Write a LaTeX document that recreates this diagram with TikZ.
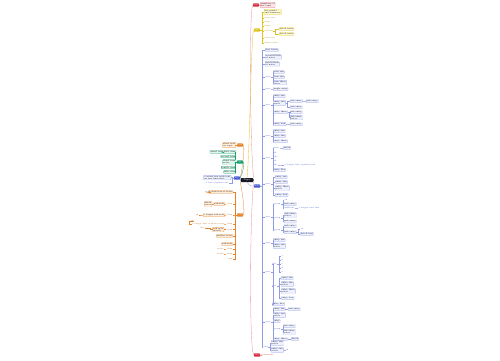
\documentclass[tikz,border=0pt]{standalone}
\usepackage{xcolor}
\usepackage{tikz}
\usetikzlibrary{positioning, calc}
\definecolor{myred}{RGB}{214,48,66}
\definecolor{mydark}{RGB}{25,25,35}
\definecolor{myblue}{RGB}{70,90,210}
\definecolor{mygreen}{RGB}{20,160,110}
\definecolor{myorange}{RGB}{230,130,40}
\definecolor{myyellow}{RGB}{225,195,30}
\definecolor{hdrred}{RGB}{253,228,232}
\definecolor{hdrblue}{RGB}{236,240,255}
\definecolor{hdrgreen}{RGB}{222,246,236}
\definecolor{hdrorange}{RGB}{255,239,222}
\definecolor{hdryellow}{RGB}{255,250,214}
\tikzset{
  leaf/.style={rectangle, font=\fontsize{2}{2.3}\selectfont, inner sep=0.5pt,
    align=left, rounded corners=0.4pt, line width=0.2pt},
  root/.style={rectangle, fill=mydark, text=white, rounded corners=1pt,
    font=\fontsize{2.4}{2.8}\selectfont, minimum width=13pt, minimum height=4pt, inner sep=0.4pt},
  tag/.style={rectangle, text=white, rounded corners=0.6pt,
    font=\fontsize{1.8}{2}\selectfont, minimum width=6pt, minimum height=3.2pt, inner sep=0.3pt},
  redtag/.style={tag, fill=myred},
  ytag/.style={tag, fill=myyellow},
  btag/.style={tag, fill=myblue},
  gtag/.style={tag, fill=mygreen},
  otag/.style={tag, fill=myorange},
  redleaf/.style={leaf, draw=myred!70, fill=hdrred},
  redtext/.style={leaf, text=myred},
  yleaf/.style={leaf, draw=myyellow, fill=hdryellow},
  ytext/.style={leaf, text=myyellow!70!black},
  bleaf/.style={leaf, draw=myblue!65, fill=hdrblue},
  btext/.style={leaf, text=myblue},
  gleaf/.style={leaf, draw=mygreen, fill=hdrgreen},
  oleaf/.style={leaf, draw=myorange, fill=hdrorange},
  otext/.style={leaf, text=myorange!80!black},
  redlink/.style={draw=myred!55, line width=0.3pt},
  ylink/.style={draw=myyellow, line width=0.3pt},
  blink/.style={draw=myblue!60, line width=0.3pt},
  glink/.style={draw=mygreen, line width=0.3pt},
  olink/.style={draw=myorange, line width=0.3pt}
}
% child to the right / to the left of its parent
\newcommand{\kidR}[7]{\node[#6, anchor=west] (#3) at (#4,#5) {#7};
  \draw[#1] (#2.east) -- ++(2,0) |- (#3.west);}
\newcommand{\kidL}[7]{\node[#6, anchor=east] (#3) at (#4,#5) {#7};
  \draw[#1] (#2.west) -- ++(-2,0) |- (#3.east);}

\begin{document}
\begin{tikzpicture}[x=1pt, y=-1pt]
  \fill[white] (0,0) rectangle (500,360);
  \useasboundingbox (0,0) rectangle (500,360);

  \node[root] (root) at (247,180) {Topic};

  % top and bottom notes
  \node[redtag] (rtop) at (256,5) {note};
  \kidR{redlink}{rtop}{rtopA}{260}{5}{redleaf}{summary of\\the topic};
  \node[redtag] (rbot) at (257,355) {end};
  \kidR{redlink}{rbot}{rbotA}{261}{355}{redtext}{references};
  \draw[redlink] (root.north east) .. controls (250,150) and (249,10) .. (rtop.west);
  \draw[redlink] (root.south east) .. controls (250,210) and (249,350) .. (rbot.west);

  % yellow branch
  \node[ytag] (ytag) at (257,30) {list};
  \draw[ylink] (root.north) .. controls (250,150) and (251,32) .. (ytag.west);
  \kidR{ylink}{ytag}{y1}{264}{12}{yleaf}{key points\\and summary};
  \kidR{ylink}{ytag}{y2}{264}{18}{ytext}{item one};
  \kidR{ylink}{ytag}{y3}{264}{22}{ytext}{item};
  \kidR{ylink}{ytag}{y4}{264}{26}{ytext}{items};
  \kidR{ylink}{ytag}{y5}{264}{31}{ytext}{section};
  \kidR{ylink}{y5}{y51}{279}{29}{yleaf}{detail notes};
  \kidR{ylink}{y5}{y52}{279}{34}{yleaf}{detail notes};
  \kidR{ylink}{ytag}{y6}{264}{38}{ytext}{overview};
  \kidR{ylink}{ytag}{y7}{264}{43}{ytext}{more items};

  % blue branch
  \node[btag] (btag) at (257,186) {main};
  \draw[blink] (root.south) .. controls (250,186) .. (btag.west);
  \kidR{blink}{btag}{b1}{265}{50}{bleaf}{first block};
  \kidR{blink}{btag}{b2}{265}{57}{bleaf}{second block\\of notes};
  \kidR{blink}{btag}{b3}{265}{64}{bleaf}{third block\\of notes};
  \kidR{blink}{btag}{b4}{265}{77}{btext}{part};
  \kidR{blink}{b4}{b41}{273}{72}{bleaf}{item one};
  \kidR{blink}{b4}{b42}{273}{77}{bleaf}{item two};
  \kidR{blink}{b4}{b43}{273}{82.5}{bleaf}{item three\\notes};
  \kidR{blink}{btag}{b5}{265}{89}{btext}{part};
  \kidR{blink}{b5}{b51}{273}{89}{bleaf}{single entry};
  \kidR{blink}{btag}{b6}{265}{105}{btext}{part};
  \kidR{blink}{b6}{b61}{273}{96}{bleaf}{entry one};
  \kidR{blink}{b6}{b62}{273}{103}{bleaf}{entry two\\notes};
  \kidR{blink}{b62}{b621}{290}{101}{bleaf}{sub entry};
  \kidR{blink}{b621}{b6211}{306}{101}{bleaf}{sub entry};
  \kidR{blink}{b62}{b622}{290}{107}{bleaf}{sub entry};
  \kidR{blink}{b6}{b63}{273}{112}{bleaf}{entry three};
  \kidR{blink}{b63}{b631}{290}{112}{bleaf}{sub entry};
  \kidR{blink}{b63}{b632}{290}{117.5}{bleaf}{sub entry\\notes};
  \kidR{blink}{b6}{b64}{273}{124}{bleaf}{entry four};
  \kidR{blink}{b64}{b641}{290}{124}{bleaf}{sub entry};
  \kidR{blink}{btag}{b7}{265}{136}{btext}{part};
  \kidR{blink}{b7}{b71}{273}{131}{bleaf}{entry one};
  \kidR{blink}{b7}{b72}{273}{136}{bleaf}{entry two};
  \kidR{blink}{b7}{b73}{273}{141}{bleaf}{entry three};
  \kidR{blink}{btag}{b8}{265}{158}{btext}{part};
  \kidR{blink}{b8}{b81}{273}{148}{btext}{item};
  \kidR{blink}{b81}{b811}{283}{148}{bleaf}{detail};
  \kidR{blink}{b8}{b82}{273}{153}{btext}{ab};
  \kidR{blink}{b8}{b83}{273}{157}{btext}{abc};
  \kidR{blink}{b8}{b84}{273}{161}{btext}{ab};
  \kidR{blink}{b8}{b85}{273}{165}{btext}{abc};
  \kidR{blink}{b85}{b851}{284}{165}{btext}{a longer line of plain text};
  \kidR{blink}{b8}{b86}{273}{170}{bleaf}{entry five};
  \kidR{blink}{btag}{b9}{265}{184}{btext}{part};
  \kidR{blink}{b9}{b91}{275}{177}{bleaf}{entry one};
  \kidR{blink}{b9}{b92}{275}{182}{bleaf}{entry two};
  \kidR{blink}{b9}{b93}{275}{188}{bleaf}{entry three\\notes};
  \kidR{blink}{b9}{b94}{275}{195}{bleaf}{entry four};
  \kidR{blink}{btag}{b10}{265}{217}{btext}{part};
  \kidR{blink}{b10}{b101}{273}{204}{btext}{group};
  \kidR{blink}{b101}{b1011}{284}{200}{btext}{ab};
  \kidR{blink}{b101}{b1012}{284}{204}{bleaf}{sub entry};
  \kidR{blink}{b101}{b1013}{284}{208}{btext}{subitem};
  \kidR{blink}{b1013}{b10131}{298}{208}{btext}{a longer text line};
  \kidR{blink}{b10}{b102}{273}{218}{btext}{group};
  \kidR{blink}{b102}{b1021}{284}{215}{bleaf}{sub entry\\notes};
  \kidR{blink}{b102}{b1022}{284}{221.5}{bleaf}{sub entry};
  \kidR{blink}{b10}{b103}{273}{230}{btext}{group};
  \kidR{blink}{b103}{b1031}{284}{226}{bleaf}{sub entry};
  \kidR{blink}{b103}{b1032}{284}{232}{bleaf}{sub entry};
  \kidR{blink}{b1032}{b10321}{300}{229}{btext}{ab};
  \kidR{blink}{b1032}{b10322}{300}{234}{bleaf}{detail text};
  \kidR{blink}{btag}{b11}{265}{243}{btext}{part};
  \kidR{blink}{b11}{b111}{273}{240}{bleaf}{entry one};
  \kidR{blink}{b11}{b112}{273}{246}{bleaf}{entry two\\notes};
  \kidR{blink}{btag}{b12}{265}{272}{btext}{part};
  \kidR{blink}{b12}{b121}{272}{264}{btext}{list};
  \kidR{blink}{b121}{b1211}{281}{256}{btext}{a};
  \kidR{blink}{b121}{b1212}{281}{260}{btext}{b};
  \kidR{blink}{b121}{b1213}{281}{264}{btext}{c};
  \kidR{blink}{b121}{b1214}{281}{268}{btext}{d};
  \kidR{blink}{b121}{b1215}{281}{272}{btext}{e};
  \kidR{blink}{b12}{b122}{272}{286}{btext}{list};
  \kidR{blink}{b122}{b1221}{281}{278}{bleaf}{entry one};
  \kidR{blink}{b122}{b1222}{281}{284}{bleaf}{entry two\\notes};
  \kidR{blink}{b122}{b1223}{281}{291}{bleaf}{entry three\\notes};
  \kidR{blink}{b122}{b1224}{281}{298}{bleaf}{entry four};
  \kidR{blink}{b12}{b123}{272}{304}{bleaf}{entry five};
  \kidR{blink}{btag}{b13}{265}{322}{btext}{part};
  \kidR{blink}{b13}{b131}{273}{309}{bleaf}{entry one};
  \kidR{blink}{b131}{b1311}{288}{309}{bleaf}{sub entry};
  \kidR{blink}{b13}{b132}{273}{315}{bleaf}{entry two\\notes};
  \kidR{blink}{b13}{b133}{273}{321}{bleaf}{entry};
  \kidR{blink}{b13}{b134}{273}{329}{btext}{group};
  \kidR{blink}{b134}{b1341}{283}{326}{bleaf}{sub entry};
  \kidR{blink}{b134}{b1342}{283}{332}{bleaf}{sub entry\\notes};
  \kidR{blink}{b13}{b135}{273}{339}{bleaf}{entry three};
  \kidR{blink}{b135}{b1351}{291}{339}{bleaf}{detail};
  \kidR{blink}{btag}{b14}{263}{347}{btext}{end};
  \kidR{blink}{b14}{b141}{271}{343}{bleaf}{entry one\\notes};
  \kidR{blink}{b14}{b142}{271}{350}{bleaf}{entry two\\notes};
  \kidR{blink}{b142}{b1421}{285}{350}{btext}{ab};

  % left branches
  \node[otag] (o1tag) at (240,145) {note};
  \draw[olink] (root.north west) .. controls (243,165) and (245,146) .. (o1tag.east);
  \kidL{olink}{o1tag}{o1a}{236}{145}{oleaf}{short note\\on topic};

  \node[gtag] (gtag) at (240,162) {list};
  \draw[glink] (root.north west) .. controls (243,172) and (245,163) .. (gtag.east);
  \kidL{glink}{gtag}{g1}{236}{152}{gleaf}{first item};
  \kidL{glink}{g1}{g1a}{224}{152}{gleaf}{detail item};
  \kidL{glink}{gtag}{g2}{236}{156.5}{gleaf}{second item};
  \kidL{glink}{gtag}{g3}{236}{162}{gleaf}{third item\\notes};
  \kidL{glink}{gtag}{g4}{236}{167.5}{gleaf}{fourth item};
  \kidL{glink}{gtag}{g5}{236}{172}{gleaf}{fifth item};

  \node[btag] (ptag) at (237,178) {key};
  \draw[blink] (root.west) -- (ptag.east);
  \kidL{blink}{ptag}{p1}{231}{177.5}{bleaf}{a wider box with text\\on two lines here};
  \kidL{blink}{ptag}{p2}{229}{183}{btext}{a line of plain text};

  \node[otag] (o2tag) at (240,215) {notes};
  \draw[olink] (root.south west) .. controls (243,195) and (245,214) .. (o2tag.east);
  \kidL{olink}{o2tag}{q1}{233}{192}{oleaf}{a wide box of notes};
  \kidL{olink}{q1}{q1a}{211}{192}{otext}{note};
  \kidL{olink}{o2tag}{q2}{233}{204}{otext}{item};
  \kidL{olink}{q2}{q2a}{225}{204}{oleaf}{sub note};
  \kidL{olink}{q2a}{q2b}{212}{204}{oleaf}{detail\\notes};
  \kidL{olink}{o2tag}{q3}{233}{215}{otext}{item};
  \kidL{olink}{q3}{q3a}{225}{215}{oleaf}{a longer sub note};
  \kidL{olink}{q3a}{q3b}{199}{215}{otext}{ab};
  \kidL{olink}{o2tag}{q4}{233}{224}{otext}{item};
  \kidL{olink}{q4}{q4a}{225}{224}{otext}{a longer line of plain notes};
  \kidL{olink}{q4a}{q4b}{194}{221}{otext}{ab};
  \kidL{olink}{o2tag}{q5}{233}{229.5}{otext}{item};
  \kidL{olink}{q5}{q5a}{224}{229.5}{oleaf}{sub note\\details};
  \kidL{olink}{q5a}{q5b}{205}{228}{otext}{abc};
  \kidL{olink}{o2tag}{q6}{233}{236}{oleaf}{further notes};
  \kidL{olink}{o2tag}{q7}{233}{244}{oleaf}{sub note};
  \kidL{olink}{o2tag}{q8}{233}{249}{otext}{item};
  \kidL{olink}{q8}{q8a}{224}{249}{otext}{notes};
  \kidL{olink}{o2tag}{q9}{233}{254}{otext}{item};
  \kidL{olink}{q9}{q9a}{224}{254}{otext}{notes};
  \kidL{olink}{o2tag}{q10}{233}{259}{otext}{end};
\end{tikzpicture}
\end{document}
